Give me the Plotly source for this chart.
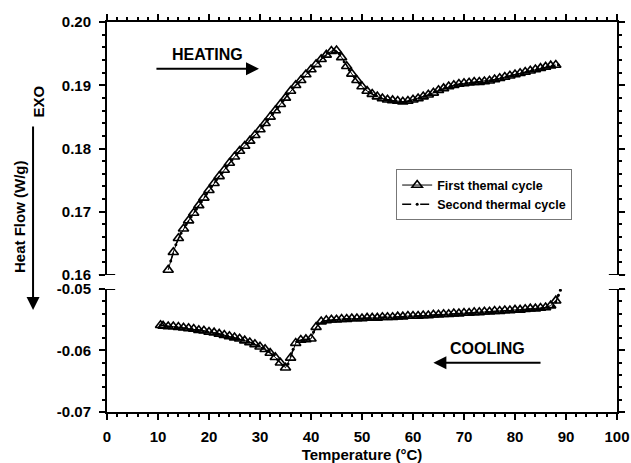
import plotly.graph_objects as go

# ---------------- data ----------------
heat1_x = [12, 13, 14, 15, 16, 17, 18, 19, 20, 21,
           22, 23, 24, 25, 26, 27, 28, 29, 30, 31,
           32, 33, 34, 35, 36, 37, 38, 39, 40, 41,
           42, 43, 44, 45, 46, 47, 48, 49, 50, 51,
           52, 53, 54, 55, 56, 57, 58, 59, 60, 61,
           62, 63, 64, 65, 66, 67, 68, 69, 70, 71,
           72, 73, 74, 75, 76, 77, 78, 79, 80, 81,
           82, 83, 84, 85, 86, 87, 88]
heat1_y = [0.1608, 0.1636, 0.1658, 0.1673, 0.1686, 0.1698, 0.1710, 0.1722, 0.1734, 0.1745,
           0.1756, 0.1766, 0.1777, 0.1787, 0.1796, 0.1804, 0.1812, 0.1821, 0.1830, 0.1840,
           0.1850, 0.1860, 0.1870, 0.1880, 0.1891, 0.1900, 0.1908, 0.1917, 0.1925, 0.1933,
           0.1941, 0.1948, 0.1954, 0.1955, 0.1944, 0.1930, 0.1918, 0.1908, 0.1898, 0.1891,
           0.1886, 0.1882, 0.1879, 0.1877, 0.1876, 0.1875, 0.1874, 0.1875, 0.1877, 0.1879,
           0.1882, 0.1885, 0.1888, 0.1892, 0.1895, 0.1898, 0.1900, 0.1902, 0.1903, 0.1904,
           0.1905, 0.1905, 0.1906, 0.1907, 0.1909, 0.1911, 0.1913, 0.1915, 0.1917, 0.1919,
           0.1921, 0.1923, 0.1925, 0.1927, 0.1929, 0.1931, 0.1932]

heat2_x = [12.5, 13.5, 14.5, 15.5, 16.5, 17.5, 18.5, 19.5, 20.5, 21.5,
           22.5, 23.5, 24.5, 25.5, 26.5, 27.5, 28.5, 29.5, 30.5, 31.5,
           32.5, 33.5, 34.5, 35.5, 36.5, 37.5, 38.5, 39.5, 40.5, 41.5,
           42.5, 43.5, 44.5, 45.5, 46.5, 47.5, 48.5, 49.5, 50.5, 51.5,
           52.5, 53.5, 54.5, 55.5, 56.5, 57.5, 58.5, 59.5, 60.5, 61.5,
           62.5, 63.5, 64.5, 65.5, 66.5, 67.5, 68.5, 69.5, 70.5, 71.5,
           72.5, 73.5, 74.5, 75.5, 76.5, 77.5, 78.5, 79.5, 80.5, 81.5,
           82.5, 83.5, 84.5, 85.5, 86.5, 87.5, 88.5]
heat2_y = [0.1622, 0.1648, 0.1666, 0.1680, 0.1692, 0.1704, 0.1716, 0.1728, 0.1740, 0.1751,
           0.1761, 0.1772, 0.1782, 0.1792, 0.1800, 0.1808, 0.1817, 0.1826, 0.1835, 0.1845,
           0.1855, 0.1865, 0.1875, 0.1886, 0.1896, 0.1904, 0.1913, 0.1921, 0.1929, 0.1937,
           0.1945, 0.1951, 0.1956, 0.1950, 0.1937, 0.1924, 0.1913, 0.1903, 0.1894, 0.1888,
           0.1884, 0.1880, 0.1878, 0.1876, 0.1875, 0.1874, 0.1874, 0.1876, 0.1878, 0.1880,
           0.1883, 0.1886, 0.1890, 0.1893, 0.1896, 0.1899, 0.1901, 0.1902, 0.1903, 0.1904,
           0.1905, 0.1905, 0.1906, 0.1908, 0.1910, 0.1912, 0.1914, 0.1916, 0.1918, 0.1920,
           0.1922, 0.1924, 0.1926, 0.1928, 0.1930, 0.1931, 0.1932]

cool1_x = [10.5, 11, 12, 13, 14, 15, 16, 17, 18, 19, 20,
           21, 22, 23, 24, 25, 26, 27, 28, 29, 30,
           31, 32, 33, 34, 35, 36, 37, 38, 39, 40,
           41, 42, 43, 44, 45, 46, 47, 48, 49, 50,
           51, 52, 53, 54, 55, 56, 57, 58, 59, 60,
           61, 62, 63, 64, 65, 66, 67, 68, 69, 70,
           71, 72, 73, 74, 75, 76, 77, 78, 79, 80,
           81, 82, 83, 84, 85, 86, 87, 88]
cool1_y = [-0.0559, -0.0560, -0.0561, -0.0561, -0.0562, -0.0563, -0.0564, -0.0565, -0.0567, -0.0568, -0.0570,
           -0.0571, -0.0573, -0.0575, -0.0577, -0.0579, -0.0581, -0.0584, -0.0587, -0.0590, -0.0594,
           -0.0598, -0.0604, -0.0611, -0.0620, -0.0628, -0.0612, -0.0588, -0.0583, -0.0582, -0.0581,
           -0.0562, -0.0553, -0.0551, -0.0550, -0.0550, -0.0549, -0.0549, -0.0548, -0.0548, -0.0548,
           -0.0547, -0.0547, -0.0547, -0.0546, -0.0546, -0.0546, -0.0545, -0.0545, -0.0544, -0.0544,
           -0.0544, -0.0543, -0.0543, -0.0542, -0.0542, -0.0541, -0.0541, -0.0540, -0.0540, -0.0539,
           -0.0539, -0.0538, -0.0538, -0.0537, -0.0537, -0.0536, -0.0536, -0.0535, -0.0535, -0.0534,
           -0.0534, -0.0533, -0.0532, -0.0532, -0.0531, -0.0530, -0.0527, -0.0519]

cool2_x = [10.5, 11.5, 12.5, 13.5, 14.5, 15.5, 16.5, 17.5, 18.5, 19.5,
           20.5, 21.5, 22.5, 23.5, 24.5, 25.5, 26.5, 27.5, 28.5, 29.5,
           30.5, 31.5, 32.5, 33.5, 34.5, 35.5, 36.5, 37.5, 38.5, 39.5,
           40.5, 41.5, 42.5, 43.5, 44.5, 45.5, 46.5, 47.5, 48.5, 49.5,
           50.5, 51.5, 52.5, 53.5, 54.5, 55.5, 56.5, 57.5, 58.5, 59.5,
           60.5, 61.5, 62.5, 63.5, 64.5, 65.5, 66.5, 67.5, 68.5, 69.5,
           70.5, 71.5, 72.5, 73.5, 74.5, 75.5, 76.5, 77.5, 78.5, 79.5,
           80.5, 81.5, 82.5, 83.5, 84.5, 85.5, 86.5, 87.5, 88.0, 88.5, 88.9]
cool2_y = [-0.0559, -0.0560, -0.0561, -0.0562, -0.0562, -0.0563, -0.0565, -0.0566, -0.0567, -0.0569,
           -0.0570, -0.0572, -0.0574, -0.0576, -0.0578, -0.0580, -0.0582, -0.0585, -0.0588, -0.0592,
           -0.0596, -0.0601, -0.0607, -0.0615, -0.0624, -0.0622, -0.0598, -0.0584, -0.0582, -0.0581,
           -0.0570, -0.0556, -0.0552, -0.0551, -0.0550, -0.0549, -0.0549, -0.0548, -0.0548, -0.0548,
           -0.0547, -0.0547, -0.0547, -0.0546, -0.0546, -0.0546, -0.0545, -0.0545, -0.0545, -0.0544,
           -0.0544, -0.0543, -0.0543, -0.0543, -0.0542, -0.0542, -0.0541, -0.0541, -0.0540, -0.0540,
           -0.0539, -0.0539, -0.0538, -0.0538, -0.0537, -0.0537, -0.0536, -0.0536, -0.0535, -0.0535,
           -0.0534, -0.0534, -0.0533, -0.0532, -0.0532, -0.0531, -0.0530, -0.0528, -0.0521, -0.0510, -0.0502]

x_ticks = [0, 10, 20, 30, 40, 50, 60, 70, 80, 90, 100]
top_ticks = [0.16, 0.17, 0.18, 0.19, 0.20]
top_labels = ["0.16", "0.17", "0.18", "0.19", "0.20"]
bot_ticks = [-0.07, -0.06, -0.05]
bot_labels = ["-0.07", "-0.06", "-0.05"]

# ---------------- figure ----------------
FONT = "Liberation Sans"
fig = go.Figure()

tri = dict(symbol="triangle-up-open", size=9, color="black", line=dict(width=1.6, color="black"))
dot = dict(symbol="circle", size=3, color="black")

fig.add_trace(go.Scatter(x=heat1_x, y=heat1_y, xaxis="x2", yaxis="y2", mode="lines+markers",
                         line=dict(color="black", width=1), marker=tri,
                         name="First themal cycle", legendgroup="a"))
fig.add_trace(go.Scatter(x=heat2_x, y=heat2_y, xaxis="x2", yaxis="y2", mode="lines+markers",
                         line=dict(color="black", width=1.5, dash="dash"), marker=dot,
                         name="Second thermal cycle", legendgroup="b"))
fig.add_trace(go.Scatter(x=cool1_x, y=cool1_y, xaxis="x", yaxis="y", mode="lines+markers",
                         line=dict(color="black", width=1), marker=tri,
                         showlegend=False, legendgroup="a"))
fig.add_trace(go.Scatter(x=cool2_x, y=cool2_y, xaxis="x", yaxis="y", mode="lines+markers",
                         line=dict(color="black", width=1.5, dash="dash"), marker=dot,
                         showlegend=False, legendgroup="b"))

tickfont = dict(family=FONT, size=15, color="black", weight="bold")
common_ax = dict(showgrid=False, zeroline=False, showline=True, linecolor="black", linewidth=2,
                 ticks="outside", ticklen=6, tickwidth=2, tickcolor="black", tickfont=tickfont,
                 automargin=False)

BOT_TOP = 0.3154
TOP_BOT = 0.3513

fig.update_layout(
    width=631, height=463,
    margin=dict(l=107, r=14, t=22, b=51),
    paper_bgcolor="white", plot_bgcolor="white",
    font=dict(family=FONT, color="black"),
    xaxis=dict(domain=[0, 1], anchor="y", range=[0, 100], tickvals=x_ticks, ticklabelstandoff=4,
               minor=dict(ticks="outside", ticklen=3, tickwidth=1.5, dtick=2, tick0=0, tickcolor="black"),
               title=dict(text="Temperature (°C)", font=dict(family=FONT, size=15, weight="bold"), standoff=10),
               **common_ax),
    xaxis2=dict(domain=[0, 1], anchor="y2", side="top", range=[0, 100], tickvals=x_ticks,
                showticklabels=False,
                minor=dict(ticks="outside", ticklen=3, tickwidth=1.5, dtick=2, tick0=0, tickcolor="black"),
                **common_ax),
    yaxis=dict(domain=[0, BOT_TOP], anchor="x", range=[-0.07, -0.05], tickvals=bot_ticks, ticktext=bot_labels,
               mirror="allticks", ticklabelstandoff=5,
               minor=dict(ticks="outside", ticklen=3, tickwidth=1.5, dtick=0.002, tick0=0, tickcolor="black"),
               **common_ax),
    yaxis2=dict(domain=[TOP_BOT, 1], anchor="x2", range=[0.16, 0.20], tickvals=top_ticks, ticktext=top_labels,
                mirror="allticks", ticklabelstandoff=5,
                minor=dict(ticks="outside", ticklen=3, tickwidth=1.5, dtick=0.002, tick0=0, tickcolor="black"),
                **common_ax),
    legend=dict(x=0.567, y=0.622, xanchor="left", yanchor="top", bgcolor="white",
                bordercolor="#777", borderwidth=1, font=dict(family=FONT, size=12.5, weight="bold"),
                itemwidth=30, tracegroupgap=0),
    showlegend=True,
)

# axis-break caps
for yv, yr in [(0.16, "y2"), (-0.05, "y")]:
    for x0, x1 in [(-0.016, 0.016), (0.984, 1.016)]:
        fig.add_shape(type="line", xref="paper", yref=yr, x0=x0, x1=x1, y0=yv, y1=yv,
                      line=dict(color="black", width=2))

ann_font = dict(family=FONT, size=16, color="black", weight="bold")
fig.add_annotation(x=19.8, y=0.1948, xref="x2", yref="y2", text="HEATING", showarrow=False, font=ann_font)
fig.add_annotation(x=29.8, y=0.1926, ax=9.4, ay=0.1926, xref="x2", yref="y2", axref="x2", ayref="y2",
                   text="", showarrow=True, arrowhead=2, arrowsize=1.3, arrowwidth=2, arrowcolor="black")
fig.add_annotation(x=74.7, y=-0.0596, xref="x", yref="y", text="COOLING", showarrow=False, font=ann_font)
fig.add_annotation(x=64.0, y=-0.0620, ax=85.3, ay=-0.0620, xref="x", yref="y", axref="x", ayref="y",
                   text="", showarrow=True, arrowhead=2, arrowsize=1.3, arrowwidth=2, arrowcolor="black")

# y-axis title and EXO arrow
fig.add_annotation(x=-0.1725, y=0.50, xref="paper", yref="paper", xanchor="center", yanchor="middle",
                   text="Heat Flow (W/g)", textangle=-90,
                   showarrow=False, font=dict(family=FONT, size=15, weight="bold"))
fig.add_annotation(x=-0.134, y=0.795, xref="paper", yref="paper", xanchor="center", yanchor="middle",
                   text="EXO", textangle=-90,
                   showarrow=False, font=dict(family=FONT, size=15, weight="bold"))
fig.add_annotation(x=-0.145, y=0.2615, xref="paper", yref="paper", ax=0, ay=-185,
                   text="", showarrow=True, arrowhead=2, arrowsize=1.3, arrowwidth=2, arrowcolor="black")

fig.write_html("out.html")
